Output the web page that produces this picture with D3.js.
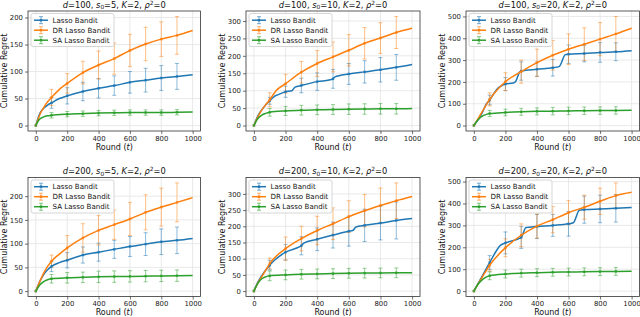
<!DOCTYPE html>
<html><head><meta charset="utf-8">
<script src="https://cdn.jsdelivr.net/npm/d3@7"></script>
<style>body{margin:0;background:#fff}svg{display:block;font-family:"DejaVu Sans",sans-serif}</style>
</head><body><svg id="c" width="640" height="317"></svg>
<script>
// ---------- data ----------
const seriesNames = ["Lasso Bandit", "DR Lasso Bandit", "SA Lasso Bandit"];
const seriesColors = ["#1f77b4", "#ff7f0e", "#2ca02c"];
const errX = [0, 100, 200, 300, 400, 500, 600, 700, 800, 900];
const xTicks = [0, 200, 400, 600, 800, 1000];
const panelD = [100, 100, 100, 200, 200, 200];
const panelS0 = [5, 10, 20, 5, 10, 20];
const yTicks = [
  [0, 50, 100, 150, 200],
  [0, 50, 100, 150, 200, 250, 300],
  [0, 100, 200, 300, 400, 500],
  [0, 50, 100, 150, 200],
  [0, 50, 100, 150, 200, 250, 300],
  [0, 100, 200, 300, 400, 500]
];

// panel 1: d=100, s0=5
const p1Lasso = [[0,0],[10,10],[25,22],[50,32],[75,38],[100,42],[150,50],[200,55],[300,63],[400,69],[500,74],[600,80],[700,84],[800,88],[900,91],[1000,94]];
const p1LassoErr = [0,10,15,17,18,18,20,22,23,24];
const p1DR = [[0,0],[10,8],[25,20],[50,33],[75,44],[100,52],[150,67],[200,78],[300,98],[400,112],[500,124],[600,139],[700,151],[800,160],[900,167],[1000,176]];
const p1DRErr = [0,15,18,21,26,29,30,31,32,35];
const p1SA = [[0,0],[10,6],[25,12],[50,16],[75,18],[100,19],[200,21],[300,22],[400,23],[500,23.5],[600,24],[700,24],[800,24],[900,24.5],[1000,25]];
const p1SAErr = [0,5,5,5,5,5,5,5,5,5];

// panel 2: d=100, s0=10
const p2Lasso = [[0,0],[25,28],[50,45],[75,60],[100,71],[130,84],[150,88],[200,97],[240,100],[260,110],[300,115],[400,126],[490,132],[500,134],[510,139],[600,148],[700,154],[800,160],[900,167],[1000,175]];
const p2LassoErr = [0,10,16,21,25,27,30,32,35,37];
const p2DR = [[0,0],[25,25],[50,45],[75,60],[100,74],[140,100],[200,120],[300,153],[400,178],[500,197],[600,216],[700,236],[800,251],[900,267],[1000,279]];
const p2DRErr = [0,20,27,31,37,43,45,45,44,46];
const p2SA = [[0,0],[25,20],[50,30],[75,35],[100,38],[200,42],[300,44],[400,45],[500,46],[600,47],[700,47.5],[800,48],[900,48],[1000,49]];
const p2SAErr = [0,11,13,14,14,14,15,15,15,15];

// panel 3: d=100, s0=20
const p3Lasso = [[0,0],[50,55],[80,100],[100,117],[150,170],[170,180],[200,190],[250,195],[265,202],[290,245],[300,250],[400,258],[500,265],[540,270],[580,325],[600,327],[700,330],[800,335],[900,338],[1000,343]];
const p3LassoErr = [0,22,30,42,33,38,42,38,45,41];
const p3DR = [[0,0],[50,60],[100,120],[150,165],[200,201],[300,247],[400,288],[500,322],[600,350],[700,373],[800,396],[900,420],[1000,446]];
const p3DRErr = [0,30,41,53,62,68,70,75,76,80];
const p3SA = [[0,0],[25,25],[50,42],[75,50],[100,55],[200,60],[300,63],[400,65],[500,66],[600,67],[700,68],[800,68.5],[900,69],[1000,70]];
const p3SAErr = [0,14,15,16,16,17,17,17,17,17];

// panel 4: d=200, s0=5
const p4Lasso = [[0,0],[25,20],[50,35],[75,45],[100,52],[150,60],[200,65],[300,76],[400,82],[500,88],[600,94],[700,99],[800,104],[900,107],[1000,111]];
const p4LassoErr = [0,11,16,17,19,19,21,24,27,28];
const p4DR = [[0,0],[25,20],[50,38],[75,52],[100,63],[150,78],[200,91],[300,112],[400,128],[500,140],[600,152],[700,166],[800,177],[900,187],[1000,197]];
const p4DRErr = [0,13,26,30,31,31,35,37,40,41];
const p4SA = [[0,0],[25,13],[50,20],[75,24],[100,26],[200,28],[300,29],[400,30],[500,30.5],[600,31],[700,31.5],[800,32],[900,32.5],[1000,33]];
const p4SAErr = [0,9,11,11,12,12,12,12,12,12];

// panel 5: d=200, s0=10
const p5Lasso = [[0,0],[25,28],[50,48],[75,65],[100,80],[130,95],[200,120],[290,137],[300,140],[315,148],[400,160],[500,173],[600,185],[625,187],[645,198],[700,203],[800,210],[900,218],[1000,224]];
const p5LassoErr = [0,15,24,28,35,40,46,50,52,57];
const p5DR = [[0,0],[25,25],[50,45],[75,65],[100,85],[200,131],[300,162],[400,187],[500,208],[600,230],[700,248],[800,264],[900,279],[1000,292]];
const p5DRErr = [0,17,36,38,44,49,49,50,54,55];
const p5SA = [[0,0],[25,24],[50,38],[75,44],[100,47],[200,50],[300,52],[400,53],[500,54],[600,55],[700,55.5],[800,56],[900,56.5],[1000,57]];
const p5SAErr = [0,15,15,15,15,15,15,15,15,15];

// panel 6: d=200, s0=20
const p6Lasso = [[0,0],[50,65],[100,130],[170,210],[200,220],[300,245],[330,290],[400,295],[500,300],[600,307],[630,312],[670,370],[700,372],[800,375],[900,378],[1000,382]];
const p6LassoErr = [0,32,50,50,55,50,56,62,63,63];
const p6DR = [[0,0],[50,60],[100,118],[200,198],[300,255],[400,297],[500,326],[600,358],[700,383],[800,410],[900,436],[1000,451]];
const p6DRErr = [0,27,41,52,55,60,55,55,60,58];
const p6SA = [[0,0],[25,30],[50,50],[75,63],[100,70],[200,78],[300,82],[400,84],[500,86],[600,87],[700,88],[800,89],[900,90],[1000,91]];
const p6SAErr = [0,18,18,18,18,18,18,18,18,18];

const panelLines = [
  [p1Lasso, p1DR, p1SA], [p2Lasso, p2DR, p2SA], [p3Lasso, p3DR, p3SA],
  [p4Lasso, p4DR, p4SA], [p5Lasso, p5DR, p5SA], [p6Lasso, p6DR, p6SA]
];
const panelErrs = [
  [p1LassoErr, p1DRErr, p1SAErr], [p2LassoErr, p2DRErr, p2SAErr], [p3LassoErr, p3DRErr, p3SAErr],
  [p4LassoErr, p4DRErr, p4SAErr], [p5LassoErr, p5DRErr, p5SAErr], [p6LassoErr, p6DRErr, p6SAErr]
];

// ---------- layout ----------
const colX = [[28, 200.5], [246, 420], [466, 639.5]];
const rowY = [[11, 131], [177.5, 296.5]];
const svg = d3.select("#c");
const tickFont = 6.9, labelFont = 8, titleFont = 8.3, legFont = 7.1;

panelLines.forEach((lines, pi) => {
  const [x0, x1] = colX[pi % 3];
  const [y0, y1] = rowY[Math.floor(pi / 3)];
  const errs = panelErrs[pi];
  const yAt = (arr, x) => { const p = arr.find(d => d[0] === x); return p ? p[1] : 0; };
  let vals = [];
  lines.forEach((ln, si) => {
    ln.forEach(d => vals.push(d[1]));
    errX.forEach((x, k) => { const m = yAt(ln, x); vals.push(m + errs[si][k], m - errs[si][k]); });
  });
  const lo = d3.min(vals), hi = d3.max(vals), pad = (hi - lo) * 0.05;
  const x = d3.scaleLinear().domain([-50, 1050]).range([x0, x1]);
  const y = d3.scaleLinear().domain([lo - pad, hi + pad]).range([y1, y0]);
  const g = svg.append("g");

  // grid
  g.selectAll(".gx").data(xTicks).join("line")
    .attr("x1", d => x(d)).attr("x2", d => x(d)).attr("y1", y0).attr("y2", y1)
    .attr("stroke", "#e3e3e3").attr("stroke-width", 0.8);
  g.selectAll(".gy").data(yTicks[pi]).join("line")
    .attr("x1", x0).attr("x2", x1).attr("y1", d => y(d)).attr("y2", d => y(d))
    .attr("stroke", "#e3e3e3").attr("stroke-width", 0.8);

  // axes
  const ax = g.append("g").attr("transform", `translate(0,${y1})`)
    .call(d3.axisBottom(x).tickValues(xTicks).tickFormat(d3.format("d")).tickSize(3).tickPadding(2));
  const ay = g.append("g").attr("transform", `translate(${x0},0)`)
    .call(d3.axisLeft(y).tickValues(yTicks[pi]).tickFormat(d3.format("d")).tickSize(3).tickPadding(2));
  [ax, ay].forEach(a => {
    a.select(".domain").remove();
    a.selectAll("line").attr("stroke", "#333").attr("stroke-width", 0.7);
    a.selectAll("text").attr("font-size", tickFont).attr("fill", "#222")
      .attr("font-family", "DejaVu Sans");
  });

  // series
  const lineGen = d3.line().x(d => x(d[0])).y(d => y(d[1])).curve(d3.curveMonotoneX);
  lines.forEach((ln, si) => {
    const c = seriesColors[si];
    const eg = g.append("g").attr("stroke", c).attr("stroke-opacity", 0.5).attr("stroke-width", 1);
    errX.forEach((ex, k) => {
      const m = yAt(ln, ex), e = errs[si][k];
      if (e <= 0) return;
      const cx = x(ex);
      eg.append("line").attr("x1", cx).attr("x2", cx).attr("y1", y(m - e)).attr("y2", y(m + e));
      eg.append("line").attr("x1", cx - 2).attr("x2", cx + 2).attr("y1", y(m - e)).attr("y2", y(m - e));
      eg.append("line").attr("x1", cx - 2).attr("x2", cx + 2).attr("y1", y(m + e)).attr("y2", y(m + e));
    });
  });
  lines.forEach((ln, si) => {
    const c = seriesColors[si];
    g.append("path").datum(ln).attr("d", lineGen).attr("fill", "none")
      .attr("stroke", c).attr("stroke-width", 1.5);
    g.selectAll(null).data(errX).join("rect")
      .attr("x", d => x(d) - 1.2).attr("y", d => y(yAt(ln, d)) - 1.2)
      .attr("width", 2.4).attr("height", 2.4).attr("fill", c).attr("opacity", d => d === 0 ? 0.6 : 0.85);
  });

  // frame
  g.append("rect").attr("x", x0).attr("y", y0).attr("width", x1 - x0).attr("height", y1 - y0)
    .attr("fill", "none").attr("stroke", "#333").attr("stroke-width", 0.8);

  // title
  const t = g.append("text").attr("x", (x0 + x1) / 2).attr("y", y0 - 3.5)
    .attr("text-anchor", "middle").attr("font-size", titleFont).attr("fill", "#111");
  t.append("tspan").attr("font-style", "italic").text("d");
  t.append("tspan").text("=" + panelD[pi] + ", ");
  t.append("tspan").attr("font-style", "italic").text("s");
  t.append("tspan").attr("font-size", titleFont * 0.7).attr("dy", 1.5).text("0");
  t.append("tspan").attr("dy", -1.5).text("=" + panelS0[pi] + ", ");
  t.append("tspan").attr("font-style", "italic").text("K");
  t.append("tspan").text("=2, ");
  t.append("tspan").attr("font-style", "italic").text("ρ");
  t.append("tspan").attr("font-size", titleFont * 0.7).attr("dy", -3).text("2");
  t.append("tspan").attr("dy", 3).text("=0");

  // axis labels
  const xl = g.append("text").attr("x", (x0 + x1) / 2).attr("y", y1 + 18.5)
    .attr("text-anchor", "middle").attr("font-size", labelFont).attr("fill", "#111");
  xl.append("tspan").text("Round (");
  xl.append("tspan").attr("font-style", "italic").text("t");
  xl.append("tspan").text(")");
  g.append("text").attr("transform", `translate(${x0 - 21},${(y0 + y1) / 2}) rotate(-90)`)
    .attr("text-anchor", "middle").attr("font-size", labelFont).attr("fill", "#111")
    .text("Cumulative Regret");

  // legend
  const lg = g.append("g").attr("transform", `translate(${x0 + 3},${y0 + 2.5})`);
  lg.append("rect").attr("width", 83).attr("height", 33).attr("rx", 2)
    .attr("fill", "#fff").attr("fill-opacity", 0.85).attr("stroke", "#ccc").attr("stroke-width", 0.8);
  seriesNames.forEach((nm, si) => {
    const cy = 6.7 + si * 10, c = seriesColors[si];
    const it = lg.append("g");
    it.append("line").attr("x1", 3).attr("x2", 17).attr("y1", cy).attr("y2", cy)
      .attr("stroke", c).attr("stroke-width", 1.5);
    it.append("line").attr("x1", 10).attr("x2", 10).attr("y1", cy - 3.5).attr("y2", cy + 3.5)
      .attr("stroke", c).attr("stroke-opacity", 0.6).attr("stroke-width", 1);
    [cy - 3.5, cy + 3.5].forEach(yy => it.append("line").attr("x1", 8).attr("x2", 12)
      .attr("y1", yy).attr("y2", yy).attr("stroke", c).attr("stroke-opacity", 0.6));
    it.append("rect").attr("x", 8.8).attr("y", cy - 1.2).attr("width", 2.4).attr("height", 2.4).attr("fill", c);
    it.append("text").attr("x", 21.5).attr("y", cy + 2.5).attr("font-size", legFont)
      .attr("fill", "#111").text(nm);
  });
});
</script></body></html>
